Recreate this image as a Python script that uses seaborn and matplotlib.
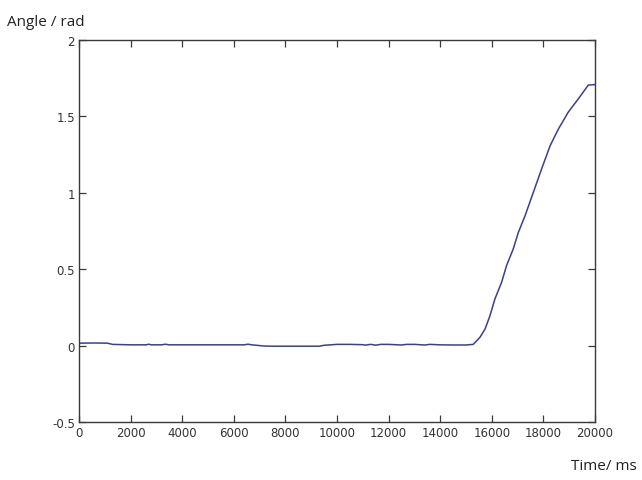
import matplotlib
matplotlib.use("Agg")
import matplotlib.pyplot as plt
import seaborn as sns
import pandas as pd

# Joint angle recorded over a 20 s trial
time_ms = [0, 600, 1100, 1300, 2000, 2600, 2700, 2800, 3200, 3350, 3500, 4500, 5500,
           6400, 6550, 6700, 7200, 7500, 8500, 9300, 9500, 10000, 10500, 11000,
           11100, 11300, 11500, 11700, 12000, 12500, 12700, 13000, 13400, 13600,
           14000, 14500, 15000, 15280, 15540, 15740, 15930, 16120, 16380, 16570,
           16830, 17030, 17290, 17610, 17930, 18260, 18580, 18960, 19350, 19740,
           20000]
angle_rad = [0.016, 0.017, 0.016, 0.008, 0.005, 0.005, 0.009, 0.005, 0.005, 0.009,
             0.005, 0.005, 0.005, 0.005, 0.009, 0.005, -0.003, -0.004, -0.004, -0.004,
             0.002, 0.008, 0.008, 0.006, 0.003, 0.008, 0.003, 0.008, 0.008, 0.004,
             0.008, 0.008, 0.004, 0.008, 0.005, 0.004, 0.004, 0.008, 0.054, 0.109,
             0.196, 0.305, 0.414, 0.523, 0.632, 0.741, 0.85, 1.003, 1.156, 1.308,
             1.417, 1.527, 1.614, 1.705, 1.708]

x_ticks = list(range(0, 20001, 2000))
y_ticks = [-0.5, 0, 0.5, 1, 1.5, 2]
y_tick_labels = ["-0.5", "0", "0.5", "1", "1.5", "2"]

df = pd.DataFrame({"time": time_ms, "angle": angle_rad})

sns.set_theme(style="white")
plt.rcParams["font.family"] = ["DejaVu Sans"]

fig = plt.figure(figsize=(6.42, 4.81), dpi=100)
ax = fig.add_axes([79 / 642, 1 - 423 / 481, (595 - 79) / 642, (423 - 41) / 481])

sns.lineplot(data=df, x="time", y="angle", ax=ax, color="#3b3f8c", linewidth=1.1)

ax.set_xlim(0, 20000)
ax.set_ylim(-0.5, 2)
ax.set_xticks(x_ticks)
ax.set_xticklabels([str(t) for t in x_ticks])
ax.set_yticks(y_ticks)
ax.set_yticklabels(y_tick_labels)
ax.set_xlabel("")
ax.set_ylabel("")

for side in ["left", "right", "top", "bottom"]:
    ax.spines[side].set_visible(True)
    ax.spines[side].set_color("#3a3a3a")
    ax.spines[side].set_linewidth(1.0)

ax.tick_params(axis="both", which="major", direction="in", length=5, width=0.9,
               color="#3a3a3a", labelsize=8.5, labelcolor="#333333",
               top=True, right=True, bottom=True, left=True, pad=3)

fig.text(7 / 642, 1 - 22 / 481, "Angle / rad", fontsize=11, family="Open Sans",
         color="#222222", va="center", ha="left")
fig.text(637 / 642, 1 - 466 / 481, "Time/ ms", fontsize=11, family="Open Sans",
         color="#222222", va="center", ha="right")

fig.savefig("out.png", dpi=100, facecolor="white")
